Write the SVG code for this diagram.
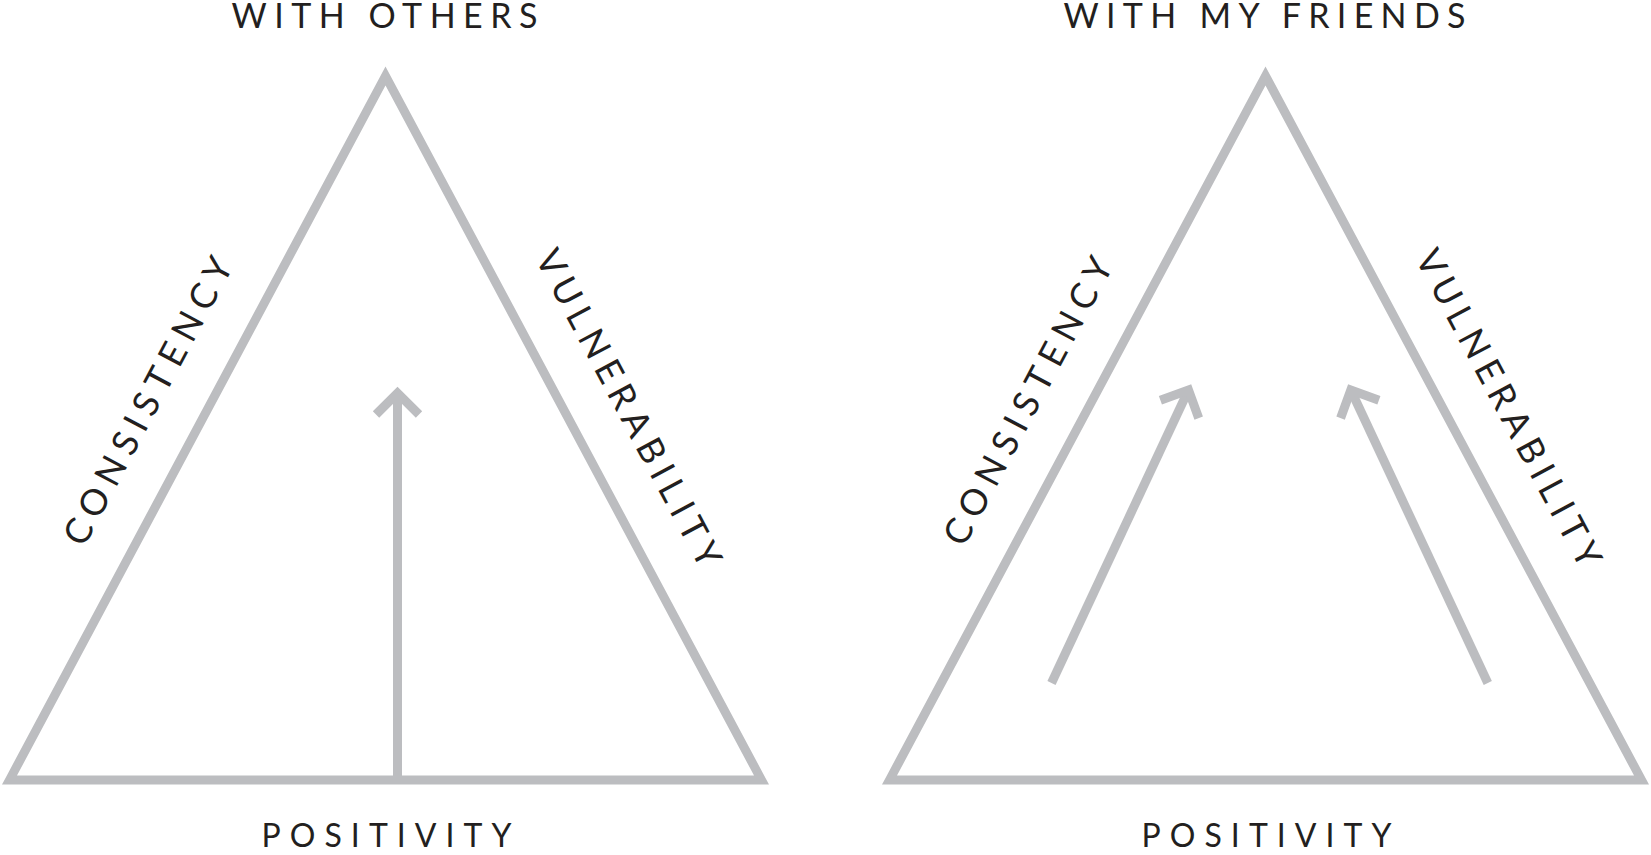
<svg xmlns="http://www.w3.org/2000/svg" width="1651" height="855" viewBox="0 0 1651 855">
<style>
.edge{fill:none;stroke:#bcbdc0;stroke-width:9;stroke-linejoin:miter;stroke-miterlimit:10}
.arr{fill:none;stroke:#bcbdc0;stroke-width:9;stroke-linejoin:miter;stroke-linecap:butt;stroke-miterlimit:10}
.lbl{font-family:Lato,"Liberation Sans",sans-serif;fill:#231f20}
.head{font-size:34px}
.base{font-size:32px}
.side{font-size:36px}
</style>
<rect width="1651" height="855" fill="#fff"/>
<g id="triangle-others">
<polygon class="edge" points="9.5,780 385.5,76 761.5,780"/>
<text class="lbl head" x="231.5" y="28" textLength="306" lengthAdjust="spacing">WITH OTHERS</text>
<text class="lbl base" x="261.5" y="847" textLength="250" lengthAdjust="spacing">POSITIVITY</text>
<text class="lbl side" transform="translate(159,406.9) rotate(-62)" x="-160" y="0" textLength="320" lengthAdjust="spacing">CONSISTENCY</text>
<text class="lbl side" transform="translate(617.7,414.1) rotate(62)" x="-177" y="0" textLength="354" lengthAdjust="spacing">VULNERABILITY</text>
</g>
<g id="triangle-friends">
<polygon class="edge" points="889.5,780 1265.5,76 1641.5,780"/>
<text class="lbl head" x="1063.5" y="28" textLength="402" lengthAdjust="spacing">WITH MY FRIENDS</text>
<text class="lbl base" x="1141.5" y="847" textLength="250" lengthAdjust="spacing">POSITIVITY</text>
<text class="lbl side" transform="translate(1039,406.9) rotate(-62)" x="-160" y="0" textLength="320" lengthAdjust="spacing">CONSISTENCY</text>
<text class="lbl side" transform="translate(1497.7,414.1) rotate(62)" x="-177" y="0" textLength="354" lengthAdjust="spacing">VULNERABILITY</text>
</g>
<g id="connectors">
<line class="arr" x1="397.5" y1="780" x2="397.5" y2="394"/>
<polyline class="arr" points="376,414.5 397.5,393 419,414.5"/>
<line class="arr" x1="1051.5" y1="683" x2="1188" y2="391"/>
<polyline class="arr" points="1160.4,400.2 1188.5,390 1198.7,418.1"/>
<line class="arr" x1="1487.8" y1="683" x2="1351.3" y2="391"/>
<polyline class="arr" points="1378.9,400.2 1350.8,390 1340.6,418.1"/>
</g>
</svg>
